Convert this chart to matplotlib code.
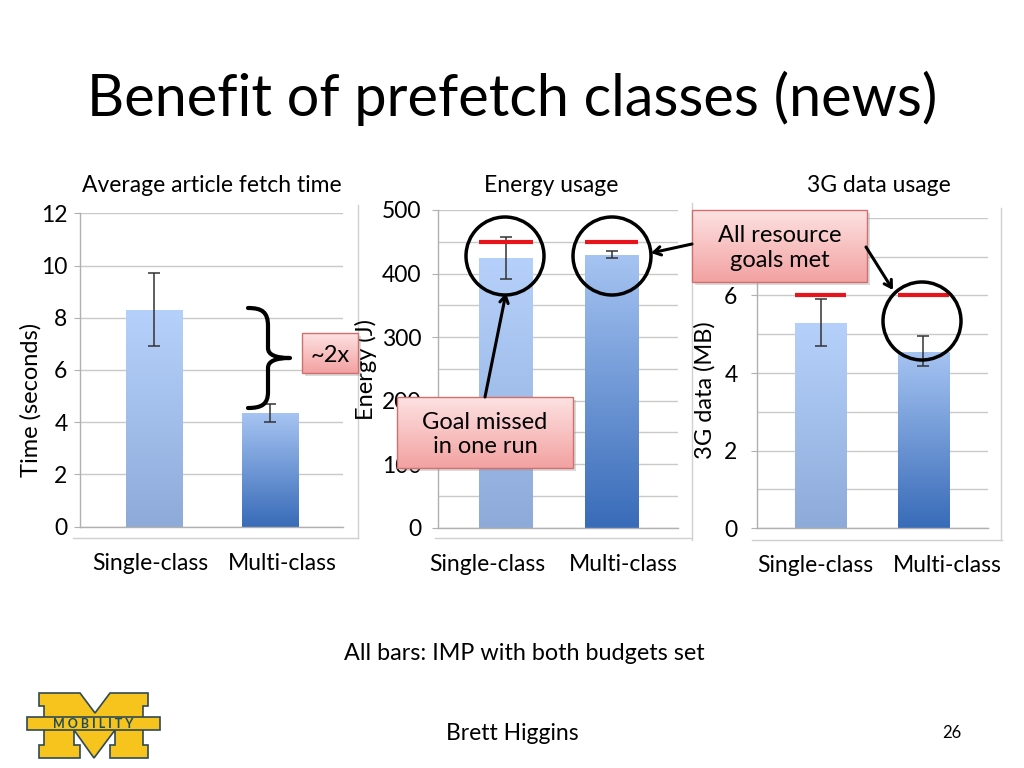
import numpy as np
import matplotlib
matplotlib.use("Agg")
import matplotlib.pyplot as plt
from matplotlib.patches import Rectangle, Circle, Polygon, PathPatch
from matplotlib.path import Path
import matplotlib.colors as mcolors

plt.rcParams['font.family'] = ['Lato', 'DejaVu Sans']

# ---------------- data ----------------
categories = ["Single-class", "Multi-class"]

time_values = [8.3, 4.35]
time_err_low = [1.4, 0.35]
time_err_high = [1.4, 0.35]

energy_values = [424, 429]
energy_err_low = [33, 4]
energy_err_high = [34, 6]
energy_goal = 450

data_values = [5.28, 4.55]
data_err_low = [0.58, 0.37]
data_err_high = [0.62, 0.40]
data_goal = 6

chart_titles = ["Average article fetch time", "Energy usage", "3G data usage"]
y_labels = ["Time (seconds)", "Energy (J)", "3G data (MB)"]

# ---------------- figure ----------------
W, H = 1024, 768
fig = plt.figure(figsize=(W / 100, H / 100), dpi=100)
fig.patch.set_facecolor("white")

bg = fig.add_axes([0, 0, 1, 1], zorder=0)
bg.set_xlim(0, W); bg.set_ylim(H, 0); bg.axis("off")

fg = fig.add_axes([0, 0, 1, 1], zorder=20)
fg.set_xlim(0, W); fg.set_ylim(H, 0); fg.axis("off")
fg.patch.set_alpha(0)


def px_axes(x0, x1, ytop, ybot):
    return fig.add_axes([x0 / W, (H - ybot) / H, (x1 - x0) / W, (ybot - ytop) / H], zorder=5)


SINGLE_COL = ("#b5d1fb", "#8eaad9")
MULTI_COL = ("#a6c4f2", "#386bb8")
GRID = "#c9c9c9"
AXIS = "#b0b0b0"
TICK_FS = 16.5


def gradient_bars(ax, bars, cols):
    for b, (top, bot) in zip(bars, cols):
        x0 = b.get_x(); w = b.get_width(); h = b.get_height()
        c1 = np.array(mcolors.to_rgb(bot)); c2 = np.array(mcolors.to_rgb(top))
        t = np.linspace(0, 1, 256)[:, None]
        img = (c1 + (c2 - c1) * t)[:, None, :]
        im = ax.imshow(img, extent=(x0, x0 + w, 0, h), origin="lower", aspect="auto",
                       zorder=2, interpolation="bilinear")
        im.set_clip_path(b)
        b.set_facecolor("none")
        b.set_edgecolor("none")


def make_chart(ax, values, elow, ehigh, ylim, major, minor, xlim, width, ticks_x, ypad, goal=None):
    x = np.arange(len(values))
    bars = ax.bar(x, values, width=width, zorder=2)
    gradient_bars(ax, bars, [SINGLE_COL, MULTI_COL])
    ax.errorbar(x, values, yerr=[elow, ehigh], fmt="none", ecolor="#333333",
                elinewidth=1.1, capsize=4, capthick=1.1, zorder=4)
    if goal is not None:
        ax.hlines([goal] * len(values), x - width / 2, x + width / 2, colors="#e8141b",
                  linewidth=3, zorder=5)
    ax.set_xlim(*xlim)
    ax.set_ylim(*ylim)
    ax.set_yticks(major)
    ax.set_yticks(minor, minor=True)
    ax.set_xticks(ticks_x)
    ax.set_xticklabels(categories, fontsize=TICK_FS)
    ax.tick_params(axis="x", length=0, pad=19)
    ax.tick_params(axis="y", which="major", length=4, color=AXIS, labelsize=TICK_FS, pad=ypad)
    ax.tick_params(axis="y", which="minor", length=0)
    ax.grid(axis="y", which="both", color=GRID, linewidth=1, zorder=0)
    ax.set_axisbelow(True)
    for s in ["top", "right"]:
        ax.spines[s].set_visible(False)
    for s in ["left", "bottom"]:
        ax.spines[s].set_color(AXIS)
        ax.spines[s].set_linewidth(1)
    ax.patch.set_alpha(0)


ax1 = px_axes(80, 343, 213.3, 526.7)
make_chart(ax1, time_values, time_err_low, time_err_high, (0, 12), np.arange(0, 13, 2), [],
           (-0.64, 1.63), 0.49, [-0.03, 1.11], 5)

ax2 = px_axes(438, 678, 210, 527.7)
make_chart(ax2, energy_values, energy_err_low, energy_err_high, (0, 500), np.arange(0, 501, 100),
           np.arange(50, 500, 100), (-0.645, 1.63), 0.51, [-0.18, 1.11], 8, goal=energy_goal)

ax3 = px_axes(757, 988, 217.7, 528.3)
make_chart(ax3, data_values, data_err_low, data_err_high, (0, 8), [0, 2, 4, 6],
           [1, 3, 5, 7, 8], (-0.62, 1.63), 0.5, [-0.05, 1.23], 10, goal=data_goal)

# ---------------- frames ----------------
FRAME = "#d0d0d0"
for (xs, ys) in [((73, 358), (538, 538)), ((358, 358), (205, 538)),
                 ((435, 692), (538, 538)), ((692, 692), (203, 540)),
                 ((752, 1002), (540, 540)), ((1001, 1001), (208, 540))]:
    bg.plot(xs, ys, color=FRAME, lw=1)

# ---------------- text ----------------
bg.text(512, 98, "Benefit of prefetch classes (news)", fontsize=41.5, ha="center", va="center")
for cx, t in zip([212, 551, 879], chart_titles):
    bg.text(cx, 185, t, fontsize=16.5, ha="center", va="center")
for (cx, cy), t in zip([(31, 400), (366, 370), (705, 390)], y_labels):
    bg.text(cx, cy, t, fontsize=17, rotation=90, ha="center", va="center")

bg.text(524, 653, "All bars: IMP with both budgets set", fontsize=16.8, ha="center", va="center")
bg.text(512, 733, "Brett Higgins", fontsize=16.5, ha="center", va="center")
bg.text(952, 733, "26", fontsize=12, ha="center", va="center")

# ---------------- logo ----------------
LOGO_Y = "#f6c41c"
LOGO_E = "#2f4a55"
m_pts = [(39, 693), (80, 693), (95, 713), (110, 693), (148, 693), (148, 706), (143, 706),
         (143, 745), (148, 745), (148, 758), (110, 758), (110, 745), (115, 745), (115, 730),
         (94, 758), (74, 730), (74, 745), (80, 745), (80, 758), (39, 758), (39, 745), (44, 745),
         (44, 706), (39, 706)]
bg.add_patch(Polygon(m_pts, closed=True, fc=LOGO_Y, ec=LOGO_E, lw=1.2, zorder=2))
bg.add_patch(Rectangle((27, 717), 133, 13, fc=LOGO_Y, ec=LOGO_E, lw=1.2, zorder=3))
bg.text(93.5, 724, "M O B I L I T Y", fontsize=9, fontweight="bold", color="#1f4b5a",
        ha="center", va="center", zorder=4)

# ---------------- annotations (foreground) ----------------
def callout(x0, y0, x1, y1, text, fs=17):
    fg.add_patch(Rectangle((x0 + 3, y0 + 3), x1 - x0, y1 - y0, fc="#999999", ec="none",
                           alpha=0.35, zorder=1))
    rect = Rectangle((x0, y0), x1 - x0, y1 - y0, fc="none", ec="#d0706e", lw=1, zorder=3)
    fg.add_patch(rect)
    c1 = np.array(mcolors.to_rgb("#fde2e2")); c2 = np.array(mcolors.to_rgb("#f3a1a1"))
    t = np.linspace(0, 1, 256)[:, None]
    img = (c1 + (c2 - c1) * t)[:, None, :]
    im = fg.imshow(img, extent=(x0, x1, y1, y0), origin="upper", aspect="auto", zorder=2)
    im.set_clip_path(rect)
    fg.text((x0 + x1) / 2, (y0 + y1) / 2 + 2, text, fontsize=fs, ha="center", va="center",
            linespacing=1.2, zorder=4)


callout(302, 333, 358, 373, "~2x")
callout(397, 397, 573, 468, "Goal missed\nin one run")
callout(692, 210, 867, 282, "All resource\ngoals met")

for (cx, cy) in [(505, 256), (612, 256), (922, 321)]:
    fg.add_patch(Circle((cx, cy), 39, fill=False, ec="black", lw=2.5, zorder=5))

arrow = dict(arrowstyle="->,head_length=0.5,head_width=0.3", lw=2.2, color="black",
             shrinkA=0, shrinkB=0)
fg.annotate("", xy=(506, 293), xytext=(485, 397), arrowprops=arrow, zorder=6)
fg.annotate("", xy=(651, 253), xytext=(692, 244), arrowprops=arrow, zorder=6)
fg.annotate("", xy=(893, 290), xytext=(866, 247), arrowprops=arrow, zorder=6)

# curly brace
verts = [(248, 308), (262, 308), (268, 312), (268, 326),
         (268, 348),
         (268, 355), (276, 358), (290, 358),
         (276, 358), (268, 361), (268, 368),
         (268, 392),
         (268, 404), (262, 408), (248, 408)]
codes = [Path.MOVETO, Path.CURVE4, Path.CURVE4, Path.CURVE4,
         Path.LINETO,
         Path.CURVE4, Path.CURVE4, Path.CURVE4,
         Path.CURVE4, Path.CURVE4, Path.CURVE4,
         Path.LINETO,
         Path.CURVE4, Path.CURVE4, Path.CURVE4]
fg.add_patch(PathPatch(Path(verts, codes), fill=False, ec="black", lw=3, zorder=6,
                       capstyle="round", joinstyle="round"))

for a in (bg, fg):
    a.set_xlim(0, W); a.set_ylim(H, 0)

fig.savefig("out.png", dpi=100)
